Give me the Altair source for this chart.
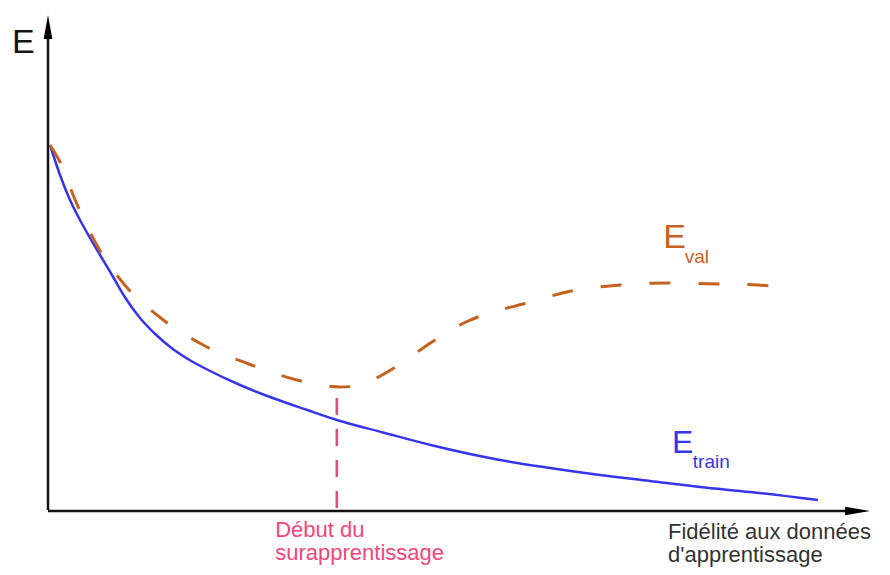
import altair as alt
import pandas as pd

# Training error (solid blue)
fidelity_train = [0.25, 1.5, 2.75, 4.0, 5.25, 6.5, 8.0, 9.6, 11.5, 13.4, 15.6, 17.7, 19.9, 24.0, 28.1,
                  32.4, 36.1, 41.9, 48.1, 56.5, 62.75, 69.0, 75.25, 81.5, 87.75, 96.25]
error_train = [73.0, 67.0, 62.0, 58.0, 54.4, 51.0, 47.0, 42.6, 38.4, 35.2, 32.2, 30.0, 28.1, 25.0, 22.4,
               20.0, 18.0, 15.5, 12.9, 10.0, 8.4, 7.0, 5.8, 4.6, 3.6, 2.0]

# Validation error (dashed orange)
fidelity_val = [0.25, 1.5, 3.4, 6.1, 9.6, 14.1, 19.4, 25.1, 31.1, 34.0, 36.5, 38.6,
                41.75, 44.0, 48.0, 52.25, 54.75, 59.4, 65.4, 71.6, 77.75, 84.0, 88.75, 91.5]
error_val = [73.0, 69.6, 62.0, 53.0, 45.0, 38.4, 33.0, 29.2, 26.0, 25.0, 24.6, 24.8,
             27.0, 29.2, 33.6, 37.6, 39.2, 41.2, 43.8, 45.0, 45.4, 45.2, 45.0, 44.6]

overfit_x = [36.1]
overfit_top = [22.4]

ORANGE = "#c6621e"
BLUE = "#3535ec"
PINK = "#f2457c"
FONT = "Liberation Sans"

xs = alt.Scale(domain=[-5, 104.25], nice=False, zero=False)
ys = alt.Scale(domain=[-11.4, 100.4], nice=False, zero=False)

train = pd.DataFrame({"f": fidelity_train, "e": error_train})
val = pd.DataFrame({"f": fidelity_val, "e": error_val})
overfit = pd.DataFrame({"f": overfit_x, "top": overfit_top, "bottom": [0.0]})


def X(f):
    return alt.X(f, type="quantitative", scale=xs, axis=None)


def Y(f):
    return alt.Y(f, type="quantitative", scale=ys, axis=None)


# axes drawn from small tables in the same data units
yaxis_df = pd.DataFrame({"f": [0.0], "e0": [0.0], "e1": [95.2]})
xaxis_df = pd.DataFrame({"f0": [0.0], "f1": [100.0], "e": [-0.2]})
yarrow_df = pd.DataFrame({"f": [0.0], "e": [96.6]})
xarrow_df = pd.DataFrame({"f": [101.2], "e": [-0.2]})

y_axis = alt.Chart(yaxis_df).mark_rule(color="#111111", strokeWidth=2.5).encode(
    x=X("f"), y=Y("e0"), y2="e1")
x_axis = alt.Chart(xaxis_df).mark_rule(color="#111111", strokeWidth=2.5).encode(
    x=X("f0"), x2="f1", y=Y("e"))
y_arrow = alt.Chart(yarrow_df).mark_point(shape="M0,-1L0.36,1L-0.36,1Z", filled=True, size=576,
                                          color="#000000", opacity=1).encode(x=X("f"), y=Y("e"))
x_arrow = alt.Chart(xarrow_df).mark_point(shape="M1,0L-1,-0.34L-1,0.34Z", filled=True, size=625,
                                          color="#000000", opacity=1).encode(x=X("f"), y=Y("e"))

train_line = alt.Chart(train).mark_line(color=BLUE, strokeWidth=2.5, interpolate="monotone").encode(
    x=X("f"), y=Y("e"))
val_line = alt.Chart(val).mark_line(color=ORANGE, strokeWidth=3, strokeDash=[21, 28],
                                    interpolate="monotone").encode(x=X("f"), y=Y("e"))
overfit_rule = alt.Chart(overfit).mark_rule(color=PINK, strokeWidth=2.5, strokeDash=[17, 14]).encode(
    x=X("f"), y=Y("top"), y2="bottom")


def label(txt, x, y, size, color):
    df = pd.DataFrame({"f": [x], "e": [y]})
    return alt.Chart(df).mark_text(align="left", baseline="alphabetic", font=FONT,
                                   fontSize=size, color=color).encode(
        x=X("f"), y=Y("e"), text=alt.value(txt))


texts = [
    label("E", -4.5, 91.4, 34, "#151515"),
    label("E", 76.9, 52.4, 34, ORANGE),
    label("val", 79.6, 49.4, 19, ORANGE),
    label("E", 78.0, 11.4, 32, BLUE),
    label("train", 80.6, 8.4, 19, BLUE),
    label("Fidélité aux données", 77.5, -5.8, 22, "#333333"),
    label("d'apprentissage", 77.5, -10.4, 22, "#333333"),
    label("Début du", 28.4, -5.4, 22, PINK),
    label("surapprentissage", 28.4, -10.0, 22, PINK),
]

chart = alt.layer(y_axis, x_axis, train_line, val_line, overfit_rule, y_arrow, x_arrow, *texts).properties(
    width=874, height=559, padding=0, autosize=alt.AutoSizeParams(type="none"),
    background="white"
).configure_view(stroke=None)

chart.save("out.html", embed_options={"renderer": "svg", "actions": False})
